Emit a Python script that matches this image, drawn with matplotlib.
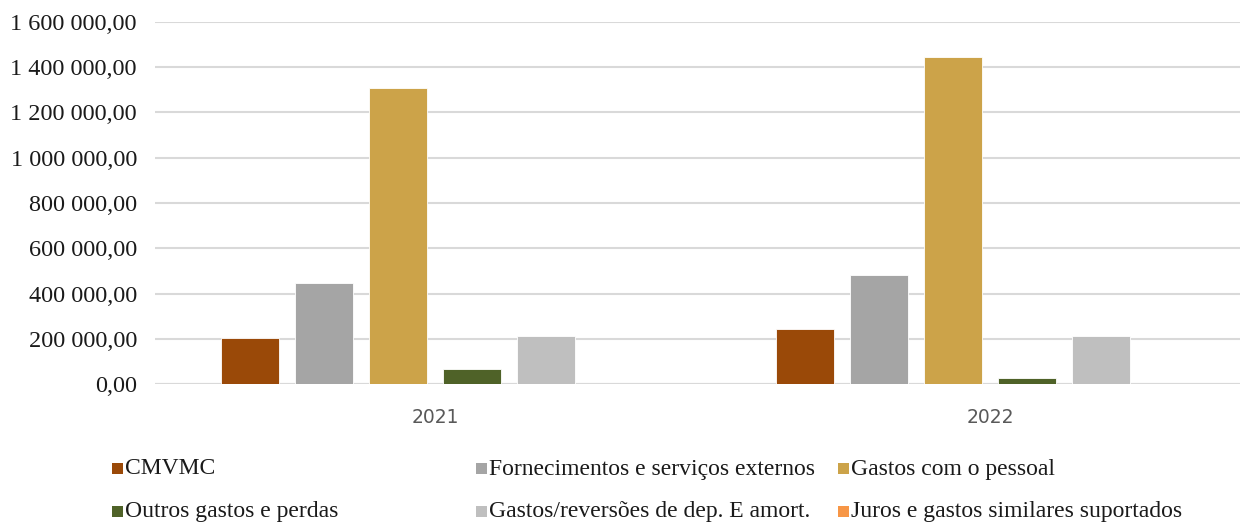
import numpy as np
import matplotlib.pyplot as plt
from matplotlib.patches import Rectangle
from matplotlib.ticker import FuncFormatter

years = ["2021", "2022"]
series = [
    "CMVMC",
    "Fornecimentos e serviços externos",
    "Gastos com o pessoal",
    "Outros gastos e perdas",
    "Gastos/reversões de dep. E amort.",
    "Juros e gastos similares suportados",
]
values_2021 = [204000, 448000, 1307000, 65000, 211000, 1500]
values_2022 = [243000, 480000, 1444000, 28000, 213000, 1200]
colors = ["#9A4908", "#A5A5A5", "#CCA349", "#4F6228", "#BFBFBF", "#F79646"]

fig = plt.figure(figsize=(12.55, 5.22), dpi=100)
ax = fig.add_axes([155 / 1255, 138 / 522, 1085 / 1255, 362 / 522])

x = np.arange(len(years))
slot = 74 / 555
width = 58 / 555
data = np.array([values_2021, values_2022]).T
for i, (name, vals) in enumerate(zip(series, data)):
    offs = (i - 2.5) * slot
    ax.bar(x + offs, vals, width, color=colors[i], edgecolor="white",
           linewidth=0.6, zorder=3, label=name)

ax.set_xlim(-280 / 555, 805 / 555)
ax.set_ylim(0, 1600000)
ax.set_yticks(np.arange(0, 1600001, 200000))


def fmt(v, pos):
    s = f"{v:,.2f}"
    return s.replace(",", " ").replace(".", ",")


ax.yaxis.set_major_formatter(FuncFormatter(fmt))
ax.grid(axis="y", color="#D9D9D9", linewidth=1.5, zorder=0)
for sp in ax.spines.values():
    sp.set_visible(False)
ax.axhline(0, color="#D9D9D9", linewidth=1.5, zorder=1)
ax.tick_params(length=0)
ax.tick_params(axis="y", pad=13)
ax.tick_params(axis="x", pad=17)
ax.set_xticks(x)
ax.set_xticklabels(years, fontsize=13.5, color="#595959", family="DejaVu Sans")
for lab in ax.get_yticklabels():
    lab.set_family("Liberation Serif")
    lab.set_fontsize(17.5)
    lab.set_color("#1a1a1a")

# legend drawn row-wise like the original
col_x = [112, 476, 838]
row_y = [469, 512]
for i, name in enumerate(series):
    r, c = divmod(i, 3)
    px, py = col_x[c], row_y[r]
    fig.patches.append(Rectangle((px / 1255, (522 - py - 5) / 522), 11 / 1255, 11 / 522,
                                 transform=fig.transFigure, facecolor=colors[i],
                                 edgecolor="none"))
    fig.text((px + 13) / 1255, (522 - py) / 522, name, ha="left", va="center",
             fontsize=17, family="Liberation Serif", color="#1a1a1a")

fig.savefig("out.png", dpi=100)
